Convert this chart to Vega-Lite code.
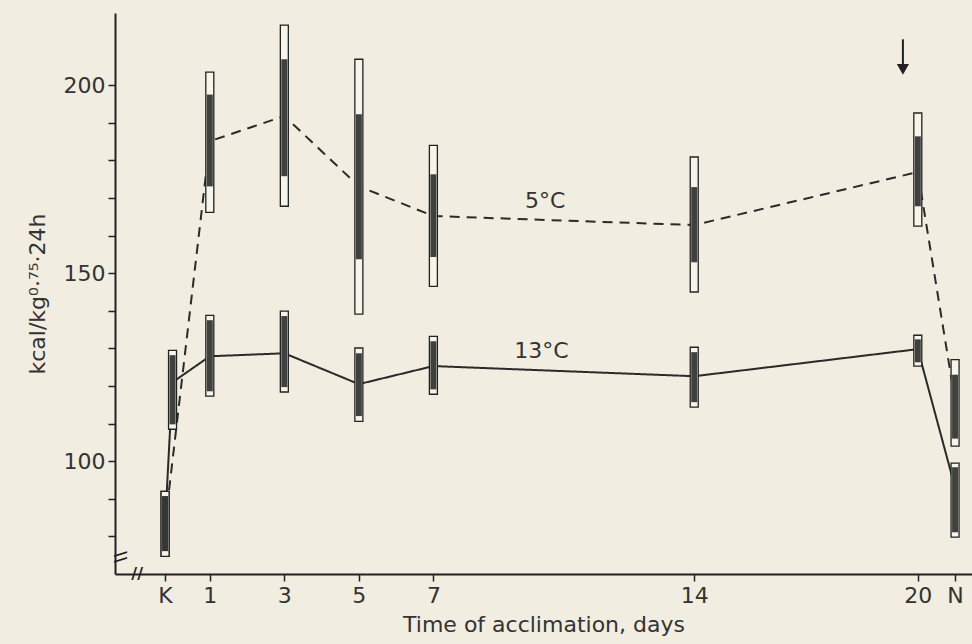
{
  "$schema": "https://vega.github.io/schema/vega-lite/v6.json",
  "autosize": {"type": "none"},
  "padding": {"left": 115, "top": 13, "right": 0, "bottom": 70},
  "width": 857,
  "height": 561,
  "background": "#f1ede0",
  "config": {
    "view": {"stroke": null},
    "font": "DejaVu Sans",
    "axis": {"grid": false, "domainColor": "#222", "domainWidth": 2, "tickColor": "#222", "tickWidth": 1.5, "labelColor": "#333", "titleColor": "#333", "labelFont": "DejaVu Sans", "titleFont": "DejaVu Sans", "titleFontWeight": "normal"}
  },
  "datasets": {
    "bars": [
      {"series": "5°C", "day": -0.2, "mean": 83.3, "lo": 74.7, "hi": 92.0, "ilo": 76.1, "ihi": 90.7},
      {"series": "5°C", "day": 1, "mean": 185.1, "lo": 166.2, "hi": 203.5, "ilo": 173.1, "ihi": 197.5},
      {"series": "5°C", "day": 3, "mean": 191.8, "lo": 167.8, "hi": 216.0, "ilo": 175.8, "ihi": 206.9},
      {"series": "5°C", "day": 5, "mean": 173.1, "lo": 139.1, "hi": 206.9, "ilo": 153.7, "ihi": 192.3},
      {"series": "5°C", "day": 7, "mean": 165.2, "lo": 146.5, "hi": 184.0, "ilo": 154.3, "ihi": 176.3},
      {"series": "5°C", "day": 14, "mean": 162.8, "lo": 145.0, "hi": 180.9, "ilo": 152.9, "ihi": 172.9},
      {"series": "5°C", "day": 20, "mean": 176.9, "lo": 162.5, "hi": 192.6, "ilo": 167.8, "ihi": 186.4},
      {"series": "5°C", "day": 21, "mean": 116.0, "lo": 104.0, "hi": 127.0, "ilo": 106.0, "ihi": 123.0},
      {"series": "13°C", "day": -0.2, "mean": 83.3, "lo": 74.7, "hi": 92.0, "ilo": 76.1, "ihi": 90.7},
      {"series": "13°C", "day": 0, "mean": 121.0, "lo": 108.5, "hi": 129.5, "ilo": 109.8, "ihi": 128.2},
      {"series": "13°C", "day": 1, "mean": 127.9, "lo": 117.3, "hi": 138.8, "ilo": 118.6, "ihi": 137.5},
      {"series": "13°C", "day": 3, "mean": 128.7, "lo": 118.4, "hi": 139.9, "ilo": 119.7, "ihi": 138.6},
      {"series": "13°C", "day": 5, "mean": 120.5, "lo": 110.6, "hi": 130.1, "ilo": 112.0, "ihi": 128.7},
      {"series": "13°C", "day": 7, "mean": 125.3, "lo": 117.8, "hi": 133.2, "ilo": 119.1, "ihi": 131.9},
      {"series": "13°C", "day": 14, "mean": 122.6, "lo": 114.4, "hi": 130.3, "ilo": 115.7, "ihi": 129.0},
      {"series": "13°C", "day": 20, "mean": 129.8, "lo": 125.3, "hi": 133.5, "ilo": 126.3, "ihi": 132.4},
      {"series": "13°C", "day": 21, "mean": 93.0, "lo": 79.8, "hi": 99.5, "ilo": 81.1, "ihi": 98.4}
    ],
    "labels": [
      {"label": "5°C", "day": 10.0, "v": 169.2},
      {"label": "13°C", "day": 9.9, "v": 129.2}
    ],
    "arrow": [
      {"day": 19.6, "top": 212.2, "tip": 205.5, "head": 204.2}
    ],
    "breaks": [
      {"mark": "\\\\", "day": -1.41, "v": 74.5, "angle": 90},
      {"mark": "//", "day": -0.95, "v": 70, "angle": 0}
    ]
  },
  "encoding": {
    "x": {"field": "day", "type": "quantitative",
      "scale": {"domain": [-1.41, 21.32], "nice": false, "zero": false},
      "axis": {"values": [-0.2, 1, 3, 5, 7, 14, 20, 21], "labelExpr": "datum.value < 0 ? 'K' : (datum.value > 20.5 ? 'N' : format(datum.value, 'd'))", "tickSize": 7, "labelFontSize": 22, "labelPadding": 4, "title": "Time of acclimation, days", "titleFontSize": 22, "titlePadding": 8}
    }
  },
  "layer": [
    {
      "data": {"name": "bars"},
      "mark": {"type": "line", "color": "#2a2a2a", "strokeWidth": 2},
      "encoding": {
        "y": {"field": "mean", "type": "quantitative",
          "scale": {"domain": [70, 219.2], "nice": false, "zero": false},
          "axis": {"values": [80, 90, 100, 110, 120, 130, 140, 150, 160, 170, 180, 190, 200], "labelExpr": "datum.value % 50 == 0 ? format(datum.value, 'd') : ''", "tickSize": 7, "labelFontSize": 22, "labelPadding": 3, "title": "kcal/kg⁰·⁷⁵·24h", "titleFontSize": 22, "titlePadding": 14}
        },
        "detail": {"field": "series"},
        "strokeDash": {"field": "series", "type": "nominal", "scale": {"domain": ["5°C", "13°C"], "range": [[10, 7], [1, 0]]}, "legend": null}
      }
    },
    {
      "data": {"name": "bars"},
      "mark": {"type": "bar", "width": 8, "fill": "#f7f4ea", "stroke": "#222", "strokeWidth": 1.3},
      "encoding": {
        "y": {"field": "lo", "type": "quantitative"},
        "y2": {"field": "hi"}
      }
    },
    {
      "data": {"name": "bars"},
      "mark": {"type": "bar", "width": 6, "fill": "#363636", "opacity": 0.95},
      "encoding": {
        "y": {"field": "ilo", "type": "quantitative"},
        "y2": {"field": "ihi"}
      }
    },
    {
      "data": {"name": "labels"},
      "mark": {"type": "text", "fontSize": 22, "color": "#333", "baseline": "middle", "align": "center"},
      "encoding": {
        "y": {"field": "v", "type": "quantitative"},
        "text": {"field": "label"}
      }
    },
    {
      "data": {"name": "arrow"},
      "mark": {"type": "rule", "color": "#222", "strokeWidth": 2},
      "encoding": {
        "y": {"field": "top", "type": "quantitative"},
        "y2": {"field": "tip"}
      }
    },
    {
      "data": {"name": "arrow"},
      "mark": {"type": "point", "shape": "triangle-down", "filled": true, "color": "#222", "size": 150, "opacity": 1},
      "encoding": {
        "y": {"field": "head", "type": "quantitative"}
      }
    },
    {
      "data": {"name": "breaks"},
      "mark": {"type": "text", "fontSize": 16, "fontWeight": "bold", "color": "#222", "baseline": "middle", "align": "center"},
      "encoding": {
        "y": {"field": "v", "type": "quantitative"},
        "text": {"field": "mark"},
        "angle": {"field": "angle", "type": "quantitative", "scale": null}
      }
    }
  ]
}
